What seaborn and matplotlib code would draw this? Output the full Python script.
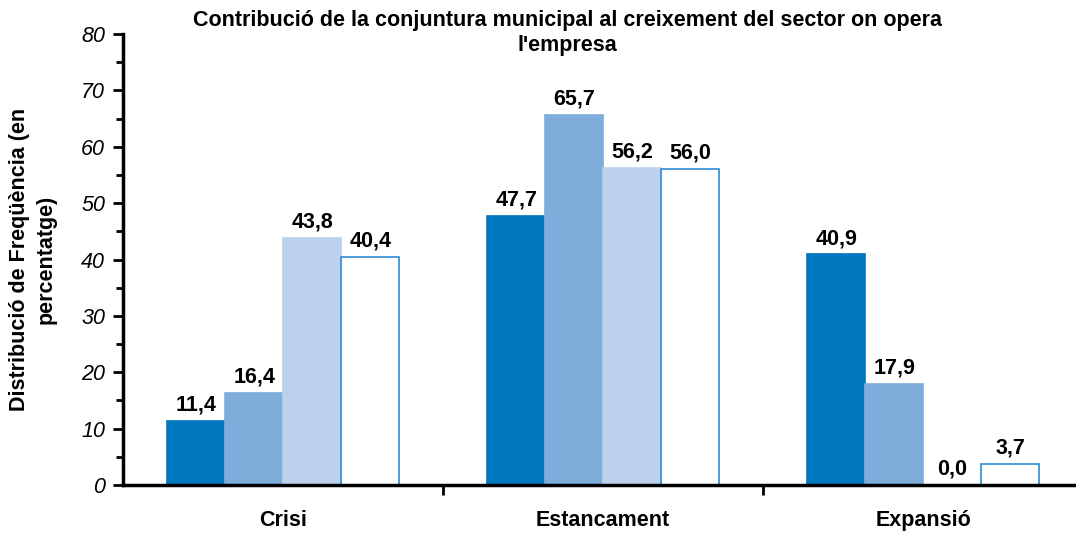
import matplotlib
matplotlib.use("Agg")
import matplotlib.pyplot as plt
from matplotlib.ticker import MultipleLocator
import seaborn as sns
import pandas as pd

categories = ["Crisi", "Estancament", "Expansió"]
series_names = ["Grup 1", "Grup 2", "Grup 3", "Grup 4"]
values = {
    "Grup 1": [11.4, 47.7, 40.9],
    "Grup 2": [16.4, 65.7, 17.9],
    "Grup 3": [43.8, 56.2, 0.0],
    "Grup 4": [40.4, 56.0, 3.7],
}
fill_colors = ["#0077BE", "#7EADDC", "#BCD1EC", "#FFFFFF"]
edge_colors = ["#0077BE", "#7EADDC", "#BCD1EC", "#2E8BCF"]

rows = []
for s in series_names:
    for c, v in zip(categories, values[s]):
        rows.append({"categoria": c, "serie": s, "valor": v})
df = pd.DataFrame(rows)

sns.set_theme(style="white")
plt.rcParams["font.family"] = ["Liberation Sans", "DejaVu Sans"]
plt.rcParams.update({
    "text.color": "black",
    "axes.labelcolor": "black",
    "xtick.color": "black",
    "ytick.color": "black",
})

fig = plt.figure(figsize=(10.76, 5.33), dpi=100)
ax = fig.add_axes([0.1145, 0.090, 0.8855, 0.846])

sns.barplot(data=df, x="categoria", y="valor", hue="serie", order=categories,
            hue_order=series_names, palette=fill_colors, width=0.725,
            saturation=1, legend=False, ax=ax)

# Style bars per series and label them with their values
n = len(categories)
for i, s in enumerate(series_names):
    for j in range(n):
        p = ax.patches[i * n + j]
        p.set_facecolor(fill_colors[i])
        p.set_edgecolor(edge_colors[i])
        p.set_linewidth(1.2)
        v = values[s][j]
        ax.annotate(f"{v:.1f}".replace(".", ","),
                    (p.get_x() + p.get_width() / 2, p.get_height()),
                    xytext=(0, 11.5), textcoords="offset points",
                    ha="center", va="center", fontsize=15.5,
                    fontweight="bold", color="black")

ax.set_ylim(0, 80)
ax.set_xlim(-0.5, 2.478)
ax.yaxis.set_major_locator(MultipleLocator(10))
ax.yaxis.set_minor_locator(MultipleLocator(5))
ax.tick_params(axis="y", which="major", direction="out", length=7, width=2,
               labelsize=15.5, left=True, pad=6, color="black",
               labelcolor="black")
ax.tick_params(axis="y", which="minor", direction="out", length=5, width=2,
               left=True, color="black")
for lab in ax.get_yticklabels():
    lab.set_fontstyle("italic")

# Category separators as x ticks, category names placed under each group
ax.set_xticks([0.5, 1.5], labels=["", ""])
ax.tick_params(axis="x", which="major", direction="out", length=7, width=2,
               bottom=True, color="black")
for j, c in enumerate(categories):
    ax.text(j, -0.078, c, transform=ax.get_xaxis_transform(), ha="center",
            va="center", fontsize=15.5, fontweight="bold", color="black")

for side in ["top", "right"]:
    ax.spines[side].set_visible(False)
for side in ["left", "bottom"]:
    ax.spines[side].set_color("black")
    ax.spines[side].set_linewidth(2.5)

ax.set_xlabel("")
ax.set_ylabel("Distribució de Freqüència (en\npercentatge)", fontsize=15.5,
              fontweight="bold", labelpad=18, linespacing=1.3, color="black")
fig.text(0.527, 0.982,
         "Contribució de la conjuntura municipal al creixement del sector on opera\nl'empresa",
         ha="center", va="top", fontsize=15.5, fontweight="bold",
         linespacing=1.25, color="black")

fig.savefig("out.png", dpi=100, facecolor="white")
